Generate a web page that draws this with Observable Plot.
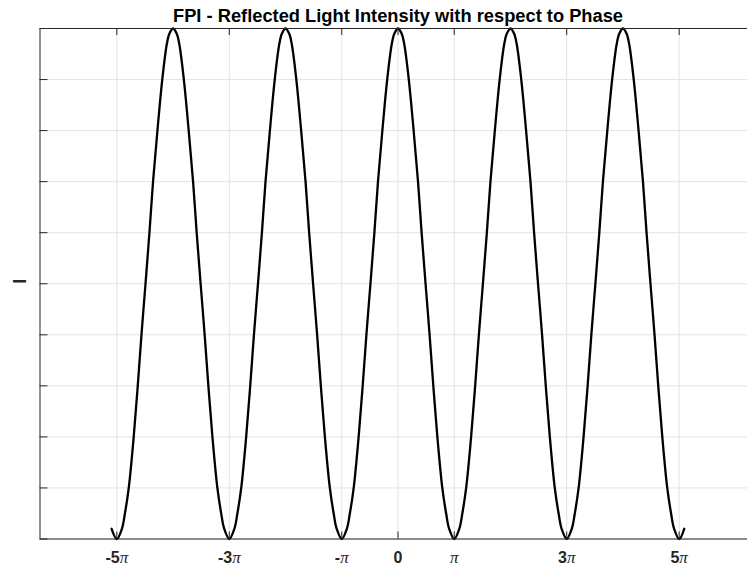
<!DOCTYPE html>
<html>
<head>
<meta charset="utf-8">
<script src="https://cdn.jsdelivr.net/npm/d3@7"></script>
<script src="https://cdn.jsdelivr.net/npm/@observablehq/plot@0.6"></script>
<style>
  html, body { margin: 0; padding: 0; background: #fff; }
  #chart svg { display: block; }
</style>
</head>
<body>
<div id="chart"></div>
<script>
// ---- data (x in units of π, y = normalized intensity) ----
const title = "FPI - Reflected Light Intensity with respect to Phase";
const yLabel = "I";
const peaksPi = [-4, -2, 0, 2, 4];                 // maxima positions (×π)
const levels    = [1, 0.99, 0.97, 0.9, 0.8, 0.7, 0.6, 0.5, 0.4, 0.3, 0.2, 0.1, 0.05, 0.02, 0];
const offsetsPi = [0, 0.064, 0.11, 0.192, 0.278, 0.356, 0.42, 0.49, 0.562, 0.628, 0.70, 0.788, 0.856, 0.91, 1.0]; // distance from peak (×π)
const startPoint = {x: -5.093, y: 0.02};
const endPoint   = {x: 5.09, y: 0.02};
const xTicks = [-5, -3, -1, 0, 1, 3, 5];
const xTickLabels = ["-5π", "-3π", "-π", "0", "π", "3π", "5π"];
const yTicks = [0, 0.1, 0.2, 0.3, 0.4, 0.5, 0.6, 0.7, 0.8, 0.9, 1];
const xDomain = [-20 / Math.PI, 20 / Math.PI];

// build curve points from the readings (each peak with its two flanks)
let pts = [startPoint];
for (const p of peaksPi) {
  for (let i = offsetsPi.length - 1; i >= 0; i--) pts.push({x: p - offsetsPi[i], y: levels[i]});
  for (let i = 1; i < offsetsPi.length; i++) pts.push({x: p + offsetsPi[i], y: levels[i]});
}
pts.push(endPoint);
pts.sort((a, b) => a.x - b.x);
const curve = pts.filter((d, i) => i === 0 || Math.abs(d.x - pts[i - 1].x) > 1e-9)
                 .filter(d => d.x >= startPoint.x - 1e-9 && d.x <= endPoint.x + 1e-9);

const axisColor = "#262626";
const gridColor = "#e3e3e3";
const tickLenY = 0.0137;  // ~7px inward
const tickLenX = 0.142;   // ~8px inward

const chart = Plot.plot({
  width: 747,
  height: 570,
  marginTop: 28,
  marginBottom: 31.5,
  marginLeft: 39.5,
  marginRight: -8.5,
  style: {fontFamily: "'Liberation Sans', Arial, sans-serif", background: "#fff"},
  x: {domain: xDomain, label: null},
  y: {domain: [0, 1], label: null, axis: null},
  marks: [
    Plot.gridX(xTicks, {stroke: gridColor, strokeOpacity: 1}),
    Plot.gridY(yTicks, {stroke: gridColor, strokeOpacity: 1}),
    Plot.line(curve, {x: "x", y: "y", stroke: "#000", strokeWidth: 2.3, curve: "catmull-rom"}),
    // inward tick marks (bottom, top, left)
    Plot.ruleX(xTicks, {x: d => d, y1: 0, y2: tickLenY, stroke: axisColor}),
    Plot.ruleX(xTicks, {x: d => d, y1: 1 - tickLenY, y2: 1, stroke: axisColor}),
    Plot.ruleY(yTicks, {y: d => d, x1: xDomain[0], x2: xDomain[0] + tickLenX, stroke: axisColor}),
    Plot.frame({stroke: axisColor, strokeWidth: 1}),
    Plot.axisX(xTicks, {
      tickSize: 0, tickPadding: 13, label: null,
      tickFormat: d => xTickLabels[xTicks.indexOf(d)],
      fontSize: 16, fontWeight: "bold", fill: axisColor
    }),
    Plot.text([title], {frameAnchor: "top", dy: -7, lineAnchor: "bottom", fontSize: 18.3, fontWeight: "bold", fill: "#000"}),
    Plot.text([yLabel], {frameAnchor: "left", dx: -20, rotate: -90, fontSize: 18, fontWeight: "bold", fill: axisColor})
  ]
});

// render π in an italic serif face like the reference
chart.querySelectorAll("text").forEach(t => {
  const s = t.textContent;
  if (s.includes("π") && s.length <= 4) {
    t.textContent = "";
    const [num] = s.split("π");
    if (num) {
      const a = document.createElementNS("http://www.w3.org/2000/svg", "tspan");
      a.textContent = num;
      t.appendChild(a);
    }
    const b = document.createElementNS("http://www.w3.org/2000/svg", "tspan");
    b.textContent = "π";
    b.setAttribute("font-family", "'Liberation Serif', 'DejaVu Serif', serif");
    b.setAttribute("font-style", "italic");
    b.setAttribute("font-weight", "normal");
    b.setAttribute("font-size", "17");
    t.appendChild(b);
  }
});

document.getElementById("chart").appendChild(chart);
</script>
</body>
</html>
